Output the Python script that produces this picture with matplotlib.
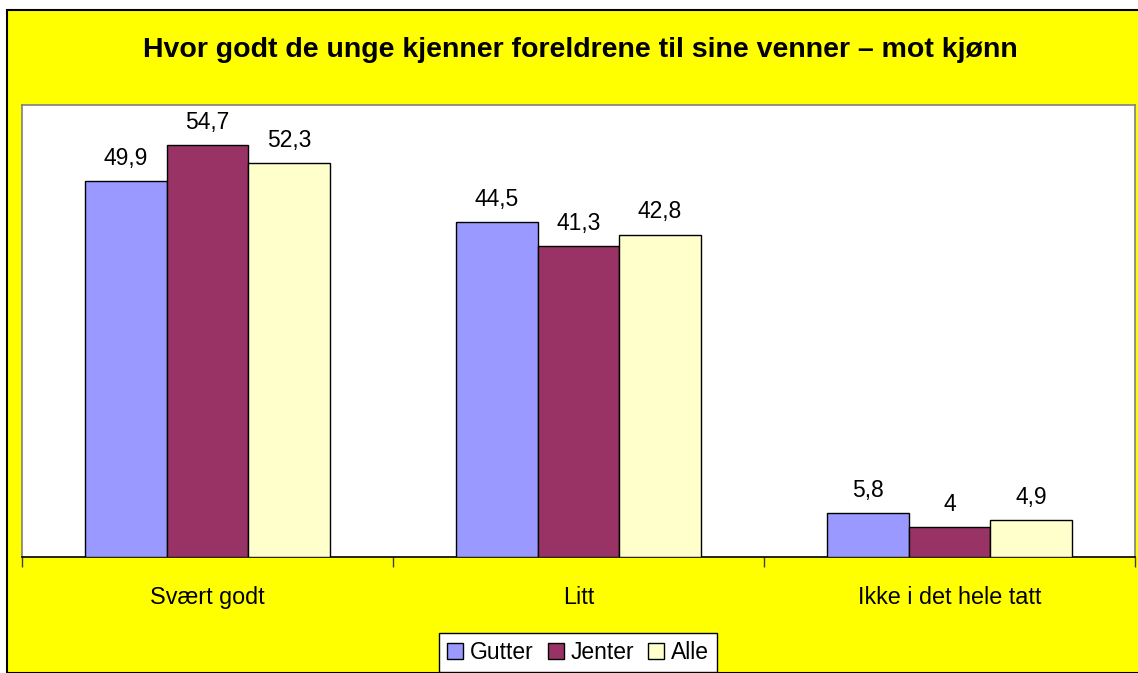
import matplotlib
matplotlib.use("Agg")
import matplotlib.pyplot as plt
from matplotlib.patches import Rectangle, Patch
import numpy as np

plt.rcParams["font.family"] = ["Liberation Sans", "DejaVu Sans"]

# data
categories = ["Svært godt", "Litt", "Ikke i det hele tatt"]
series = ["Gutter", "Jenter", "Alle"]
gutter = [49.9, 44.5, 5.8]
jenter = [54.7, 41.3, 4.0]
alle = [52.3, 42.8, 4.9]
colors = ["#9999FF", "#993366", "#FFFFCC"]

W, H = 1138, 673
fig = plt.figure(figsize=(W / 100, H / 100), dpi=100)
fig.patch.set_facecolor("white")

# yellow chart area with black frame (cut off at right/bottom)
fig.patches.append(Rectangle((7 / W, 0), 1.0, 1 - 10 / H, transform=fig.transFigure,
                             facecolor="#FFFF00", edgecolor="black", linewidth=1.5, zorder=-5))

ax = fig.add_axes([22 / W, 1 - 557 / H, 1113 / W, 452 / H])
ax.set_zorder(2)
ax.set_facecolor("white")

x = np.arange(len(categories))
bw = 0.22
for i, (name, vals) in enumerate(zip(series, [gutter, jenter, alle])):
    pos = x + (i - 1) * bw
    bars = ax.bar(pos, vals, width=bw, color=colors[i], edgecolor="black", linewidth=1.0,
                  label=name, zorder=3)
    for b, v in zip(bars, vals):
        txt = (f"{v:g}").replace(".", ",")
        ax.annotate(txt, (b.get_x() + b.get_width() / 2, v), xytext=(0, 8),
                    textcoords="offset points", ha="center", va="bottom", fontsize=16.5)

ax.set_xlim(-0.5, 2.5)
ax.set_ylim(0, 60)
ax.set_yticks([])
ax.set_xticks(x)
ax.set_xticklabels(categories, fontsize=16.8)
ax.tick_params(axis="x", which="major", length=0, pad=21)
ax.set_xticks([-0.5, 0.5, 1.5, 2.5], minor=True)
ax.tick_params(axis="x", which="minor", length=7, width=1, color="#404040", direction="out")

for s in ["top", "left", "right"]:
    ax.spines[s].set_color("#808080")
    ax.spines[s].set_linewidth(1.2)
ax.spines["bottom"].set_color("black")
ax.spines["bottom"].set_linewidth(1.2)

fig.text(580 / W, 1 - 50 / H, "Hvor godt de unge kjenner foreldrene til sine venner – mot kjønn",
         ha="center", va="center", fontsize=20.5, fontweight="bold")

handles = [Patch(facecolor=c, edgecolor="black", label=n) for c, n in zip(colors, series)]
leg = fig.legend(handles=handles, loc="upper center", bbox_to_anchor=(578 / W, 1 - 633 / H),
                 ncol=3, fontsize=16.5, frameon=True, fancybox=False, framealpha=1,
                 edgecolor="black", handlelength=0.7, handleheight=0.7, handletextpad=0.3,
                 columnspacing=0.6, borderpad=0.35, borderaxespad=0)
leg.get_frame().set_linewidth(1.0)

fig.savefig("out.png", dpi=100)
